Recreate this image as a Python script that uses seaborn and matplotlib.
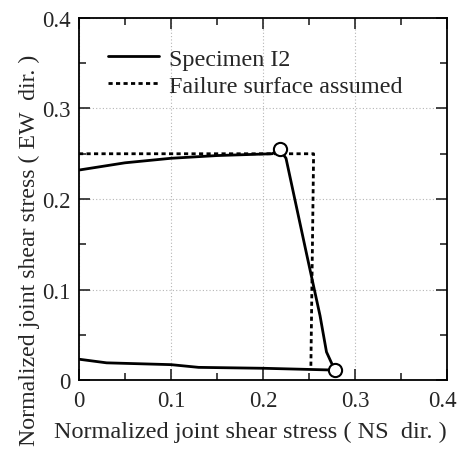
import numpy as np
import pandas as pd
import seaborn as sns
import matplotlib
matplotlib.use("Agg")
import matplotlib.pyplot as plt
from matplotlib.ticker import MultipleLocator
from matplotlib.transforms import ScaledTranslation

# Specimen I2 path (NS, EW)
spec_ns = [0.0, 0.03, 0.10, 0.13, 0.20, 0.278, 0.269, 0.262, 0.247, 0.225, 0.218, 0.21, 0.15, 0.10, 0.05, 0.0]
spec_ew = [0.023, 0.019, 0.017, 0.014, 0.013, 0.011, 0.031, 0.071, 0.141, 0.245, 0.255, 0.250, 0.248, 0.245, 0.240, 0.232]
# Failure surface assumed
fail_ns = [0.0, 0.255, 0.252]
fail_ew = [0.250, 0.250, 0.012]
# Circles (peaks)
peak_ns = [0.218, 0.278]
peak_ew = [0.255, 0.011]

ticks = [0, 0.1, 0.2, 0.3, 0.4]
tick_labels = ["0", "0.1", "0.2", "0.3", "0.4"]

sns.set_style("ticks")
plt.rcParams['font.family'] = ['Liberation Serif', 'DejaVu Serif']

fig = plt.figure(figsize=(4.58, 4.52), dpi=100)
ax = fig.add_axes([0.1725, 0.157, 0.8035, 0.801])

df_s = pd.DataFrame({"ns": spec_ns, "ew": spec_ew})
df_f = pd.DataFrame({"ns": fail_ns, "ew": fail_ew})

sns.lineplot(data=df_s, x="ns", y="ew", sort=False, estimator=None, color="black",
             linewidth=2.0, ax=ax, label="Specimen I2")
sns.lineplot(data=df_f, x="ns", y="ew", sort=False, estimator=None, color="black",
             linewidth=2.0, linestyle=(0, (1.5, 1.2)), ax=ax, label="Failure surface assumed")
ax.plot(peak_ns, peak_ew, linestyle="none", marker="o", markersize=9.5,
        markerfacecolor="white", markeredgecolor="black", markeredgewidth=1.5, zorder=5)

ax.set_xlim(0, 0.4)
ax.set_ylim(0, 0.4)
ax.set_xticks(ticks)
ax.set_xticklabels(tick_labels)
ax.set_yticks(ticks)
ax.set_yticklabels(tick_labels)
ax.xaxis.set_minor_locator(MultipleLocator(0.05))
ax.yaxis.set_minor_locator(MultipleLocator(0.05))
ax.tick_params(which="both", direction="in", top=True, right=True, labelsize=16.5, width=1.2)
ax.tick_params(which="major", length=8)
ax.tick_params(which="minor", length=5)
ax.tick_params(axis="x", pad=7)
ax.tick_params(axis="y", pad=6)
for s in ax.spines.values():
    s.set_linewidth(1.3)
    s.set_color("black")
ax.grid(True, which="major", linestyle=(0, (1, 2)), color="#b5b5b5", linewidth=0.8)

# nudge last x tick label left so it stays inside the figure
lbls = ax.get_xticklabels()
lbls[-1].set_transform(lbls[-1].get_transform() + ScaledTranslation(-5/100, 0, fig.dpi_scale_trans))

ax.set_xlabel("Normalized joint shear stress ( NS  dir. )", fontsize=17.5)
ax.xaxis.set_label_coords(0.467, -0.112)
ax.set_ylabel("Normalized joint shear stress ( EW  dir. )", fontsize=17.2)
ax.yaxis.set_label_coords(-0.106, 0.36)

leg = ax.legend(loc="upper left", frameon=False, fontsize=17.4, handlelength=2.1,
                handletextpad=0.42, borderaxespad=0.0, borderpad=0.0, labelspacing=0.22,
                bbox_to_anchor=(0.079, 0.918))

fig.savefig("out.png", dpi=100)
